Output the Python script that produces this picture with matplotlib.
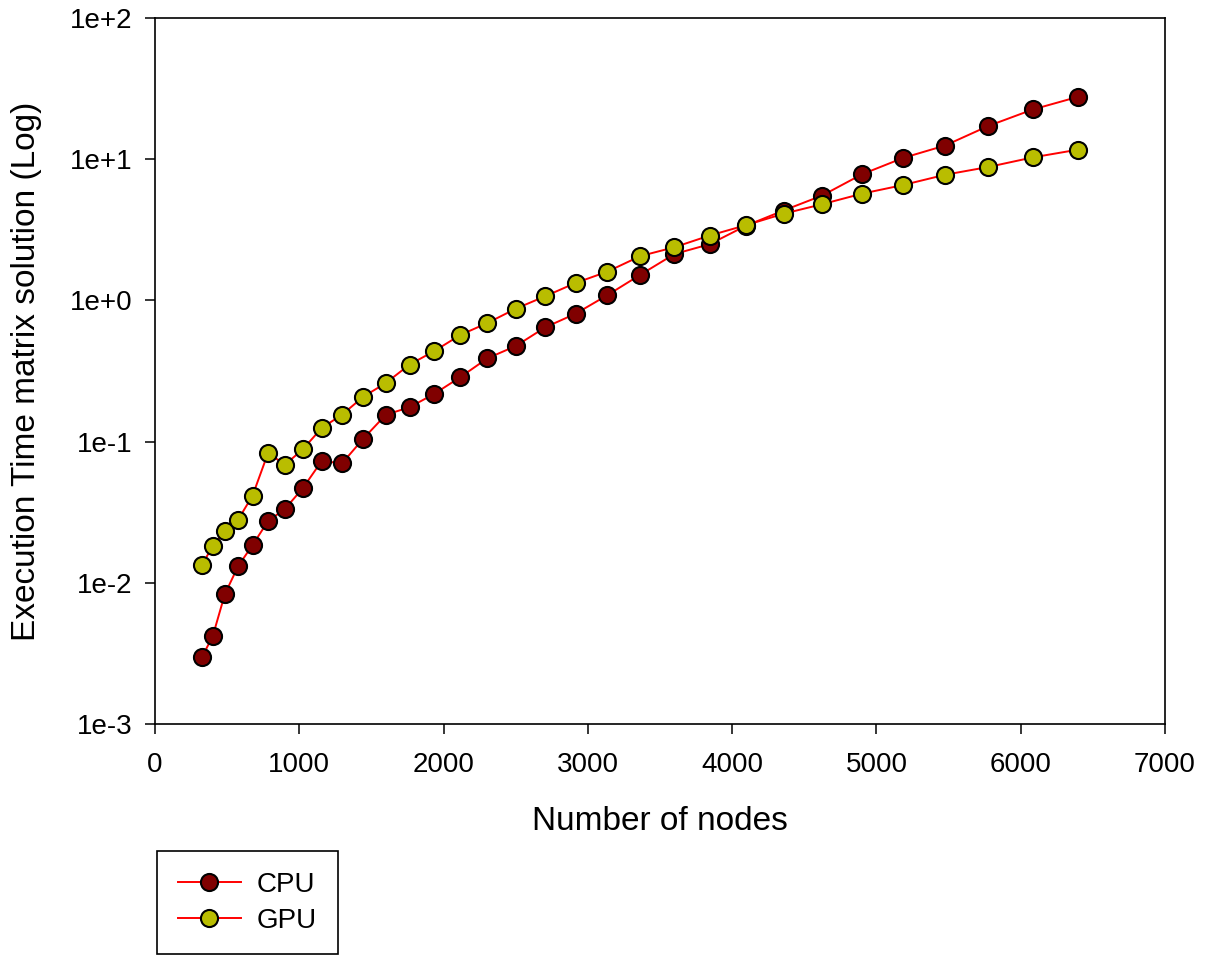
import matplotlib
matplotlib.use("Agg")
import matplotlib.pyplot as plt

# Data
nodes = [324, 400, 484, 576, 676, 784, 900, 1024, 1156, 1296, 1444, 1600,
         1764, 1936, 2116, 2304, 2500, 2704, 2916, 3136, 3364, 3600, 3844,
         4096, 4356, 4624, 4900, 5184, 5476, 5776, 6084, 6400]
cpu_time = [0.00296, 0.00418, 0.0083, 0.0131, 0.0185, 0.0274, 0.0333, 0.0467,
            0.0730, 0.0701, 0.105, 0.155, 0.175, 0.218, 0.286, 0.389, 0.475,
            0.644, 0.806, 1.09, 1.52, 2.13, 2.50, 3.38, 4.33, 5.53, 7.82,
            10.2, 12.5, 17.2, 22.5, 27.7]
gpu_time = [0.0133, 0.0182, 0.0234, 0.0280, 0.0414, 0.0833, 0.0685, 0.0881,
            0.125, 0.155, 0.208, 0.260, 0.351, 0.438, 0.569, 0.692, 0.873,
            1.07, 1.33, 1.60, 2.06, 2.38, 2.88, 3.41, 4.11, 4.80, 5.70, 6.56,
            7.76, 8.81, 10.3, 11.7]

x_ticks = [0, 1000, 2000, 3000, 4000, 5000, 6000, 7000]
y_ticks = [1e-3, 1e-2, 1e-1, 1e0, 1e1, 1e2]
y_tick_labels = ["1e-3", "1e-2", "1e-1", "1e+0", "1e+1", "1e+2"]

plt.rcParams["font.family"] = ["Liberation Sans", "DejaVu Sans"]

W, H = 1207, 958
fig = plt.figure(figsize=(W / 100, H / 100), dpi=100)
ax = fig.add_axes([155 / W, 1 - 724 / H, (1165 - 155) / W, (724 - 18) / H])

style = dict(color="#ff0000", linewidth=1.4, marker="o", markersize=12.3,
             markeredgecolor="black", markeredgewidth=1.5)
ax.plot(nodes, cpu_time, markerfacecolor="#800000", label="CPU", **style)
ax.plot(nodes, gpu_time, markerfacecolor="#b9bd00", label="GPU", **style)

ax.set_yscale("log")
ax.set_xlim(0, 7000)
ax.set_ylim(1e-3, 1e2)
ax.set_xticks(x_ticks)
ax.set_yticks(y_ticks)
ax.set_yticklabels(y_tick_labels)
ax.minorticks_off()
ax.tick_params(axis="both", direction="out", length=7, width=1.1, labelsize=20)
ax.tick_params(axis="x", pad=13)
ax.tick_params(axis="y", pad=9)
for sp in ax.spines.values():
    sp.set_linewidth(1.2)

ax.set_xlabel("Number of nodes", fontsize=24, labelpad=20)
ax.set_ylabel("Execution Time matrix solution (Log)", fontsize=24, labelpad=20)

leg = fig.legend(loc="upper left", bbox_to_anchor=(156.7 / W, 1 - 851 / H),
                 borderaxespad=0, fontsize=20, fancybox=False, framealpha=1,
                 edgecolor="black", handlelength=2.3, handletextpad=0.55,
                 borderpad=0.75, labelspacing=0.35)
leg.get_frame().set_linewidth(1.2)

fig.savefig("out.png", dpi=100)
